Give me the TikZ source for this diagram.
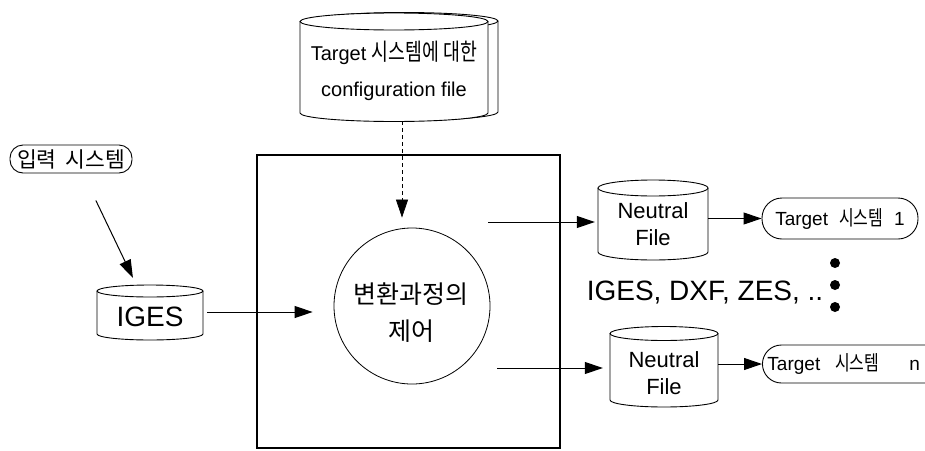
\documentclass[tikz,border=0pt]{standalone}
\usepackage{fontspec}
\setmainfont{Liberation Sans}
\newfontfamily\kr{Noto Sans CJK KR}
\newfontfamily\krc[FakeStretch=0.78]{Noto Sans CJK KR}
\usetikzlibrary{arrows.meta,calc}
% #1 centre x, #2 x radius, #3 y of top ellipse centre, #4 y where sides end, #5 y radius
\newcommand\mycyl[5]{%
  \filldraw[cyl] (#1-#2,#3) -- (#1-#2,#4) arc[start angle=180,end angle=360,x radius=#2pt,y radius=#5pt] -- (#1+#2,#3);
  \filldraw[cyl] (#1,#3) ellipse[x radius=#2pt,y radius=#5pt];
}
\tikzset{
  cyl/.style={draw=black,fill=white,line width=0.9pt},
  arr/.style={line width=1pt,-{Triangle[length=18pt,width=12pt]}},
  darr/.style={arr,line width=0.7pt,dash pattern=on 4pt off 3pt},
  lbl/.style={inner sep=0pt,align=center},
  tgt/.style={draw,line width=0.9pt,rounded corners=19pt,inner xsep=5pt,inner ysep=0pt,font=\fontsize{19}{22}\selectfont},
  dot/.style={circle,fill=black,inner sep=0pt,minimum size=10pt},
}
\begin{document}
\begin{tikzpicture}[x=1pt,y=-1pt]
\useasboundingbox (0,0) rectangle (925,450);
\clip (0,0) rectangle (925,450);
\fill[white] (0,0) rectangle (925,450);

% main frame
\node[draw,line width=2.4pt,minimum width=303pt,minimum height=293pt,inner sep=0pt] (box) at (408.5,301.5) {};

% configuration file (double cylinder)
\mycyl{404}{94}{21}{112}{8.5}
\mycyl{394}{94}{21.5}{113}{8.5}
\node[lbl,minimum width=188pt,minimum height=100pt,font=\fontsize{20}{36}\selectfont] (cfg) at (394,71)
  {Target {\krc\fontsize{23.5}{36}\selectfont 시스템에 대한}\\configuration file};

% control circle
\node[circle,draw,line width=0.8pt,minimum size=156pt,inner sep=0pt] (circ) at (412,306) {};
\node[lbl,font=\kr\fontsize{25}{37}\selectfont] (ctl) at (411,313) {변환과정의\\제어};

\draw[darr,shorten >=10pt] ([xshift=8pt]cfg.south) -- ([xshift=-10pt]circ.north);

% input system
\node[draw,line width=0.9pt,rounded corners=13pt,minimum width=122pt,minimum height=28pt,inner sep=2pt,font=\kr\fontsize{21.5}{24}\selectfont] (inp) at (71,159) {입력\hspace{9pt}시스템};

% IGES
\mycyl{150}{53}{291}{334}{6}
\node[lbl,minimum width=106pt,minimum height=40pt,font=\fontsize{28}{30}\selectfont] (iges) at (150,317) {IGES};

\draw[arr,shorten <=46pt,shorten >=21pt] ([xshift=5pt]inp.center) -- ([xshift=-8pt]iges.north);
\draw[arr,shorten <=4pt,shorten >=21pt] ([yshift=5pt]iges.east) -- ([yshift=5pt]iges.east -| circ.west);

% neutral file 1
\mycyl{653}{55}{188}{252}{8}
\node[lbl,minimum width=110pt,minimum height=56pt,font=\fontsize{22}{27}\selectfont] (nf1) at (653,224.5) {Neutral\\File};
\coordinate (o1) at (488,222);
\draw[arr,shorten >=3pt] (o1) -- (o1 -| nf1.west);

\node[tgt,minimum width=156pt,minimum height=41pt,rounded corners=20pt] (t1) at (840,218.5)
  {Target\hspace{11pt}{\krc\fontsize{20.5}{22}\selectfont 시스템}\hspace{11pt}1};
\draw[arr] (nf1.east |- t1.west) -- (t1.west);

% neutral file n
\mycyl{664}{54}{333.5}{400}{7}
\node[lbl,minimum width=108pt,minimum height=56pt,font=\fontsize{22}{27}\selectfont] (nf2) at (664,373.5) {Neutral\\File};
\coordinate (o2) at (497,368);
\draw[arr,shorten >=7pt] (o2) -- (o2 -| nf2.west);

\node[tgt,anchor=west,minimum height=38pt] (tn) at (762,364)
  {Target\hspace{15pt}{\krc\fontsize{20.5}{22}\selectfont 시스템}\hspace{30pt}n\hspace*{20pt}\mbox{}};
\draw[arr] (nf2.east |- tn.west) -- (tn.west);

% formats and dots
\node[anchor=base,inner sep=0pt,font=\fontsize{28}{30}\selectfont] (fmt) at (705,300) {IGES, DXF, ZES, ..};
\node[dot] (d1) at (835,263) {};
\node[dot] (d2) at (835,285) {};
\node[dot] (d3) at (835,307) {};
\end{tikzpicture}
\end{document}
